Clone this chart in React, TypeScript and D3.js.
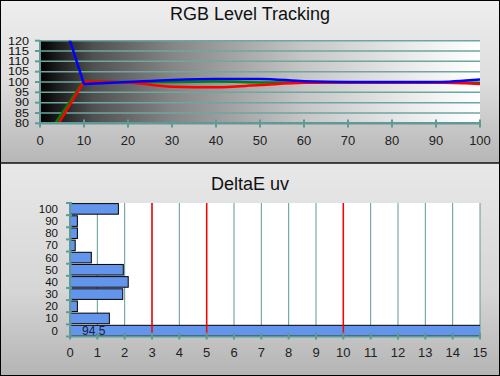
import React from "react";
import * as d3 from "d3";

const levels = [0, 10, 20, 30, 40, 50, 60, 70, 80, 90, 100];
const redVals = [65.0, 100.3, 99.8, 97.7, 97.4, 98.5, 99.6, 99.8, 99.8, 99.7, 99.0];
const greenVals = [69.0, 100.6, 100.0, 100.0, 100.2, 99.8, 99.7, 99.8, 99.8, 99.8, 99.5];
const blueVals = [165, 99.0, 100.0, 101.0, 101.5, 101.5, 100.4, 100.0, 100.0, 100.0, 101.2];
const topYTicks = [80, 85, 90, 95, 100, 105, 110, 115, 120];
const topXTicks = [0, 10, 20, 30, 40, 50, 60, 70, 80, 90, 100];

const deltaCats = ["0", "10", "20", "30", "40", "50", "60", "70", "80", "90", "100"];
const deltaVals = [94.5, 1.44, 0.27, 1.93, 2.13, 1.95, 0.78, 0.19, 0.27, 0.27, 1.77];
const deltaXTicks = d3.range(0, 16);
const redRefs = [3, 5, 10];

const W = 500, H = 376;
const teal = "#5e9b96";
const FONT = "Arial, 'Liberation Sans', sans-serif";

export default function App() {
  // top chart
  const x1 = d3.scaleLinear().domain([0, 100]).range([40, 480]);
  const y1 = d3.scaleLinear().domain([80, 120]).range([123.3, 40.7]);
  const lin = d3.line<number>().x((_, i) => x1(levels[i])).y((d) => y1(d));
  const mono = d3
    .line<number>()
    .x((_, i) => x1(levels[i + 1]))
    .y((d) => y1(d))
    .curve(d3.curveMonotoneX);
  const series = [
    { vals: greenVals, color: "#008000" },
    { vals: redVals, color: "#ff0000" },
    { vals: blueVals, color: "#0000ff" },
  ];

  // bottom chart
  const x2 = d3.scaleLinear().domain([0, 15]).range([70, 480]);
  const yb = d3.scaleBand<string>().domain(deltaCats).range([336.5, 203]).paddingInner(0.13).paddingOuter(0.05);
  const bTop = 203, bBot = 336.5;
  const boundaries = d3.range(deltaCats.length + 1).map((i) => bTop + (i * (bBot - bTop)) / deltaCats.length);

  return (
    <svg width={W} height={H} style={{ position: "absolute", left: 0, top: 0 }} fontFamily={FONT}>
      <defs>
        <linearGradient id="panelTop" x1="0" y1="0" x2="0" y2="1">
          <stop offset="0" stopColor="#eeeeee" />
          <stop offset="0.5" stopColor="#dddddd" />
          <stop offset="1" stopColor="#b6b6b6" />
        </linearGradient>
        <linearGradient id="panelBot" x1="0" y1="0" x2="0" y2="1">
          <stop offset="0" stopColor="#e8e8e8" />
          <stop offset="0.6" stopColor="#d6d6d6" />
          <stop offset="1" stopColor="#b4b4b4" />
        </linearGradient>
        <linearGradient id="plotGrad" x1="0" y1="0" x2="1" y2="0">
          <stop offset="0" stopColor="#000000" />
          <stop offset="0.04" stopColor="#1c1c1c" />
          <stop offset="0.12" stopColor="#505050" />
          <stop offset="0.3" stopColor="#858585" />
          <stop offset="0.6" stopColor="#c6c6c6" />
          <stop offset="0.85" stopColor="#ececec" />
          <stop offset="1" stopColor="#ffffff" />
        </linearGradient>
        <clipPath id="clipTop">
          <rect x={40} y={40.7} width={440} height={82.6} />
        </clipPath>
        <clipPath id="clipBot">
          <rect x={70} y={bTop} width={410} height={bBot - bTop} />
        </clipPath>
      </defs>

      {/* panels */}
      <rect x={0} y={0} width={W} height={163} fill="url(#panelTop)" />
      <rect x={0} y={163} width={W} height={H - 163} fill="url(#panelBot)" />
      <rect x={0.5} y={0.5} width={W - 1} height={H - 1} fill="none" stroke="#000" />
      <line x1={0} x2={W} y1={163} y2={163} stroke="#111" strokeWidth={1.5} />

      {/* ---------- top chart ---------- */}
      <text x={250} y={20} textAnchor="middle" fontSize={18} fill="#111">RGB Level Tracking</text>
      <rect x={40} y={40.7} width={440} height={82.6} fill="url(#plotGrad)" />
      {topYTicks.map((t) => (
        <line key={t} x1={40} x2={480} y1={y1(t)} y2={y1(t)} stroke="#6ea6a0" strokeWidth={1.5} />
      ))}
      <g clipPath="url(#clipTop)">
        {series.map((s, i) => (
          <g key={i}>
            <path d={lin(s.vals.slice(0, 2)) || ""} fill="none" stroke={s.color} strokeWidth={2.5} />
            <path d={mono(s.vals.slice(1)) || ""} fill="none" stroke={s.color} strokeWidth={2.5} />
          </g>
        ))}
      </g>
      <line x1={40} x2={40} y1={40} y2={124} stroke={teal} strokeWidth={2} />
      <line x1={40} x2={480} y1={123.3} y2={123.3} stroke={teal} strokeWidth={2.5} />
      {topYTicks.map((t) => (
        <g key={t}>
          <line x1={35} x2={40} y1={y1(t)} y2={y1(t)} stroke={teal} strokeWidth={2} />
          <text
            x={29}
            y={y1(t) + 3.8}
            textAnchor="end"
            fontSize={10}
            textLength={t >= 100 ? 21 : 14}
            lengthAdjust="spacingAndGlyphs"
            fill="#111"
          >
            {t}
          </text>
        </g>
      ))}
      {topXTicks.map((t) => (
        <g key={t}>
          <line x1={x1(t)} x2={x1(t)} y1={119.5} y2={127.5} stroke={teal} strokeWidth={2} />
          <text x={x1(t)} y={145} textAnchor="middle" fontSize={13} fill="#222">{t}</text>
        </g>
      ))}

      {/* ---------- bottom chart ---------- */}
      <text x={250} y={190} textAnchor="middle" fontSize={18} fill="#111">DeltaE uv</text>
      <rect x={70} y={bTop} width={410} height={bBot - bTop} fill="#ffffff" />
      {deltaXTicks.filter((t) => t > 0).map((t) => (
        <line key={t} x1={x2(t)} x2={x2(t)} y1={bTop} y2={bBot} stroke={teal} strokeWidth={1} />
      ))}
      <g clipPath="url(#clipBot)">
        {deltaCats.map((c, i) => (
          <rect
            key={c}
            x={x2(0)}
            y={yb(c)!}
            width={x2(deltaVals[i]) - x2(0)}
            height={yb.bandwidth()}
            fill="#6495ed"
            stroke="#000"
            strokeWidth={1}
          />
        ))}
      </g>
      {redRefs.map((r) => (
        <line key={r} x1={x2(r)} x2={x2(r)} y1={bTop} y2={bBot + 1} stroke="#ff0000" strokeWidth={1.5} />
      ))}
      <text x={82} y={335} fontSize={12} fill="#1a2040">{String(deltaVals[0])}</text>
      <line x1={70} x2={70} y1={bTop - 1} y2={bBot} stroke={teal} strokeWidth={2} />
      <line x1={70} x2={480} y1={bBot} y2={bBot} stroke={teal} strokeWidth={2} />
      {boundaries.map((b, i) => (
        <line key={i} x1={66} x2={72} y1={b} y2={b} stroke={teal} strokeWidth={2} />
      ))}
      {deltaCats.map((c) => (
        <text
          key={c}
          x={58}
          y={yb(c)! + yb.bandwidth() / 2 + 4}
          textAnchor="end"
          fontSize={11}
          textLength={c.length * 6.4}
          lengthAdjust="spacingAndGlyphs"
          fill="#111"
        >
          {c}
        </text>
      ))}
      {deltaXTicks.map((t) => (
        <g key={t}>
          <line x1={x2(t)} x2={x2(t)} y1={332.5} y2={339.5} stroke={teal} strokeWidth={2} />
          <text x={x2(t)} y={357} textAnchor="middle" fontSize={13} fill="#222">{t}</text>
        </g>
      ))}
    </svg>
  );
}
